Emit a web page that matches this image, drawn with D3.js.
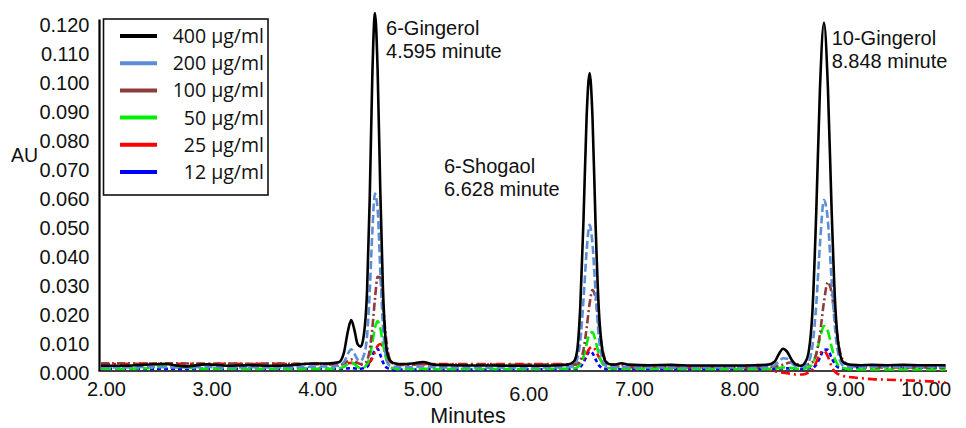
<!DOCTYPE html>
<html>
<head>
<meta charset="utf-8">
<script src="https://cdn.jsdelivr.net/npm/d3@7/dist/d3.min.js"></script>
<style>
  html, body { margin: 0; padding: 0; background: #fff; }
  svg { display: block; }
  text { font-family: "Liberation Sans", Arial, sans-serif; fill: #111; }
</style>
</head>
<body>
<svg id="chart" width="966" height="428"></svg>
<script>
// ---------------- DATA ----------------
const minutes = [
  2.0, 2.2, 2.4, 2.6, 2.8, 3.0, 3.2, 3.4, 3.6, 3.8, 4.0, 4.15,
  4.25, 4.30, 4.34, 4.37, 4.40, 4.43, 4.46, 4.49, 4.52, 4.545, 4.57, 4.595, 4.62, 4.645, 4.67, 4.695, 4.72, 4.75, 4.79, 4.85, 4.95, 5.05, 5.15,
  5.3, 5.5, 5.7, 5.9, 6.1, 6.3, 6.42,
  6.48, 6.51, 6.54, 6.57, 6.60, 6.628, 6.655, 6.685, 6.715, 6.745, 6.775, 6.81, 6.86, 6.93,
  7.0, 7.2, 7.4, 7.6, 7.8, 8.0, 8.2, 8.32,
  8.38, 8.42, 8.46, 8.50, 8.54, 8.58, 8.63, 8.67, 8.70,
  8.74, 8.775, 8.81, 8.848, 8.885, 8.92, 8.955, 8.99, 9.03, 9.07, 9.12, 9.2,
  9.3, 9.45, 9.6, 9.75, 9.9, 10.0
];

const au400 = [
  .0018,.0018,.0021,.0024,.0016,.0023,.0018,.0020,.0018,.0020,.0026,.0026,
  .0030,.0062,.0140,.0176,.0142,.0093,.0084,.0125,.0275,.0590,.1020,.1235,.1040,.0630,.0290,.0110,.0050,.0032,.0026,.0024,.0026,.0031,.0022,
  .0020,.0019,.0019,.0018,.0018,.0019,.0022,
  .0033,.0070,.0225,.0520,.0880,.1028,.0880,.0500,.0215,.0082,.0036,.0024,.0022,.0027,
  .0022,.0020,.0021,.0019,.0019,.0019,.0020,.0022,
  .0032,.0058,.0077,.0066,.0040,.0023,.0018,.0030,.0060,
  .0215,.0550,.0975,.1202,.0980,.0560,.0225,.0078,.0030,.0023,.0021,.0020,
  .0021,.0020,.0021,.0020,.0020,.0020
];
const au200 = [
  .0013,.0012,.0014,.0013,.0012,.0014,.0012,.0013,.0012,.0013,.0015,.0016,
  .0018,.0030,.0060,.0075,.0060,.0040,.0035,.0055,.0120,.0270,.0480,.0612,.0560,.0350,.0160,.0058,.0024,.0016,.0014,.0013,.0014,.0016,.0013,
  .0012,.0012,.0011,.0012,.0012,.0012,.0013,
  .0019,.0040,.0105,.0245,.0415,.0505,.0440,.0270,.0120,.0045,.0020,.0014,.0013,.0014,
  .0013,.0012,.0012,.0012,.0012,.0012,.0013,.0013,
  .0020,.0032,.0044,.0042,.0028,.0017,.0014,.0018,.0028,
  .0090,.0230,.0438,.0590,.0518,.0316,.0137,.0048,.0018,.0015,.0014,.0014,
  .0015,.0015,.0015,.0015,.0015,.0015
];
const au100 = [
  .0026,.0027,.0025,.0027,.0026,.0025,.0026,.0025,.0026,.0025,.0024,.0024,
  .0022,.0026,.0035,.0040,.0035,.0028,.0024,.0026,.0036,.0072,.0147,.0249,.0325,.0322,.0235,.0130,.0062,.0030,.0023,.0021,.0022,.0023,.0022,
  .0022,.0022,.0022,.0021,.0022,.0022,.0022,
  .0022,.0025,.0036,.0073,.0148,.0232,.0279,.0250,.0163,.0083,.0040,.0025,.0021,.0020,
  .0018,.0017,.0016,.0016,.0016,.0015,.0015,.0015,
  .0016,.0018,.0022,.0027,.0030,.0026,.0020,.0020,.0023,
  .0031,.0059,.0128,.0239,.0307,.0270,.0171,.0083,.0036,.0024,.0018,.0015,
  .0013,.0012,.0012,.0012,.0012,.0012
];
const au50 = [
  .0008,.0008,.0009,.0016,.0012,.0008,.0008,.0007,.0008,.0007,.0008,.0008,
  .0009,.0014,.0024,.0028,.0024,.0014,.0010,.0012,.0024,.0050,.0097,.0149,.0172,.0149,.0097,.0050,.0024,.0012,.0008,.0007,.0007,.0008,.0007,
  .0007,.0007,.0007,.0007,.0007,.0008,.0008,
  .0009,.0013,.0023,.0050,.0093,.0128,.0134,.0103,.0059,.0028,.0015,.0010,.0008,.0008,
  .0008,.0008,.0008,.0007,.0007,.0007,.0007,.0007,
  .0008,.0010,.0012,.0012,.0010,.0008,.0008,.0009,.0012,
  .0025,.0059,.0113,.0155,.0137,.0084,.0038,.0017,.0010,.0007,.0006,.0005,
  .0005,.0005,.0005,.0005,.0005,.0005
];
const au25 = [
  .0025,.0024,.0026,.0024,.0025,.0024,.0025,.0024,.0025,.0024,.0024,.0023,
  .0022,.0024,.0027,.0028,.0026,.0023,.0022,.0023,.0025,.0030,.0044,.0065,.0086,.0093,.0083,.0061,.0040,.0028,.0024,.0023,.0024,.0024,.0024,
  .0024,.0024,.0024,.0024,.0024,.0024,.0023,
  .0022,.0023,.0028,.0039,.0060,.0078,.0084,.0071,.0049,.0032,.0025,.0021,.0017,.0014,
  .0013,.0012,.0012,.0012,.0011,.0011,.0010,.0006,
  .0000,-.0004,-.0006,-.0008,-.0010,-.0012,-.0012,-.0010,-.0006,
  .0006,.0030,.0060,.0070,.0050,.0016,-.0004,-.0012,-.0017,-.0020,-.0022,-.0025,
  -.0028,-.0030,-.0032,-.0034,-.0037,-.0040
];
const au12 = [
  .0007,.0008,.0007,.0008,.0007,.0008,.0007,.0008,.0007,.0008,.0008,.0008,
  .0008,.0008,.0009,.0010,.0009,.0008,.0008,.0010,.0014,.0027,.0050,.0074,.0077,.0056,.0031,.0015,.0009,.0005,.0004,.0005,.0005,.0006,.0006,
  .0005,.0005,.0005,.0006,.0006,.0006,.0007,
  .0008,.0009,.0014,.0029,.0052,.0068,.0062,.0040,.0020,.0011,.0008,.0007,.0006,.0006,
  .0006,.0006,.0006,.0006,.0007,.0007,.0007,.0007,
  .0008,.0008,.0009,.0009,.0008,.0007,.0007,.0008,.0009,
  .0011,.0022,.0046,.0074,.0073,.0046,.0022,.0011,.0008,.0008,.0010,.0012,
  .0014,.0015,.0013,.0012,.0011,.0010
];

const seriesLabels = ["400 µg/ml", "200 µg/ml", "100 µg/ml", "50 µg/ml", "25 µg/ml", "12 µg/ml"];
const seriesValues = [au400, au200, au100, au50, au25, au12];

const yTickValues = [0, 0.01, 0.02, 0.03, 0.04, 0.05, 0.06, 0.07, 0.08, 0.09, 0.10, 0.11, 0.12];
const xTickValues = [2, 3, 4, 5, 6, 7, 8, 9, 10];

const peakNames = ["6-Gingerol", "6-Shogaol", "10-Gingerol"];
const peakTimeLabels = ["4.595 minute", "6.628 minute", "8.848 minute"];

// ---------------- STYLE / LAYOUT ----------------
const seriesStyles = [
  { color: "#000000", width: 2.6, dash: null },
  { color: "#5b8ed6", width: 2.6, dash: "8,3.5" },
  { color: "#8e3b3b", width: 2.6, dash: "8,3,2,3" },
  { color: "#00ee00", width: 2.6, dash: "10,4" },
  { color: "#ff0000", width: 2.6, dash: "9,4,2,4" },
  { color: "#0000ff", width: 2.6, dash: "4,3" }
];
// annotation anchors in data units (minutes, AU)
const annotationAnchors = [[4.70, 0.1158], [5.249, 0.0683], [8.921, 0.1125]];

const svg = d3.select("#chart");
const x = d3.scaleLinear().domain([2, 10]).range([101, 945.6]);
const y = d3.scaleLinear().domain([0, 0.12]).range([371, 23.3]);

// Axes
const yAxis = svg.append("g")
  .attr("transform", "translate(99.5,0)")
  .call(d3.axisLeft(y).tickValues(yTickValues).tickFormat(d3.format(".3f")).tickSize(0).tickPadding(10));
yAxis.select(".domain").attr("stroke", "#000").attr("stroke-width", 2.2)
  .attr("d", `M0,${y(0)}V19.5`);
yAxis.selectAll("text").style("font-family", '"Liberation Sans", Arial, sans-serif')
  .style("font-size", "20px").attr("fill", "#111").attr("dy", "0.4em");

const xAxis = svg.append("g")
  .attr("transform", `translate(0,${y(0)})`)
  .call(d3.axisBottom(x).tickValues(xTickValues).tickFormat(d3.format(".2f")).tickSize(0).tickPadding(10));
xAxis.select(".domain").attr("stroke", "#000").attr("stroke-width", 1.6)
  .attr("d", `M98.5,0H947`);
xAxis.selectAll("text").style("font-family", '"Liberation Sans", Arial, sans-serif')
  .style("font-size", "20px").attr("fill", "#111")
  .attr("dx", d => d === 10 ? -20 : 5)
  .attr("dy", d => d === 6 ? "1.0em" : "0.75em");

// axis titles
svg.append("text").attr("x", 11).attr("y", 161.5).style("font-size", "19.5px").text("AU");
svg.append("text").attr("x", 468).attr("y", 423).attr("text-anchor", "middle").style("font-size", "21.5px").text("Minutes");

// Lines
const line = d3.line()
  .x((d, i) => x(minutes[i]))
  .y(d => y(d))
  .curve(d3.curveMonotoneX);

const drawOrder = [5, 4, 3, 2, 1, 0];
drawOrder.forEach(k => {
  const st = seriesStyles[k];
  svg.append("path")
    .datum(seriesValues[k])
    .attr("fill", "none")
    .attr("stroke", st.color)
    .attr("stroke-width", st.width)
    .attr("stroke-linejoin", "round")
    .attr("stroke-dasharray", st.dash)
    .attr("d", line);
});

// Annotations
peakNames.forEach((name, i) => {
  const [t, v] = annotationAnchors[i];
  const tx = svg.append("text").attr("x", x(t)).attr("y", y(v)).style("font-size", "20px");
  tx.append("tspan").attr("x", x(t)).text(name);
  tx.append("tspan").attr("x", x(t)).attr("dy", 23).text(peakTimeLabels[i]);
});

// Legend
const legend = svg.append("g");
legend.append("rect")
  .attr("x", 103.5).attr("y", 19).attr("width", 164.5).attr("height", 176)
  .attr("fill", "#fff").attr("stroke", "#111").attr("stroke-width", 1.6);
const rowY = d3.scaleLinear().domain([0, seriesLabels.length - 1]).range([36, 172]);
seriesLabels.forEach((lab, i) => {
  const yy = rowY(i);
  legend.append("line")
    .attr("x1", 120).attr("x2", 157).attr("y1", yy).attr("y2", yy)
    .attr("stroke", seriesStyles[i].color).attr("stroke-width", 4);
  legend.append("text")
    .attr("x", 264).attr("y", yy).attr("dy", "0.36em")
    .attr("text-anchor", "end")
    .style("font-family", '"Open Sans", sans-serif')
    .style("font-size", "19.5px")
    .text(lab);
});
</script>
</body>
</html>
